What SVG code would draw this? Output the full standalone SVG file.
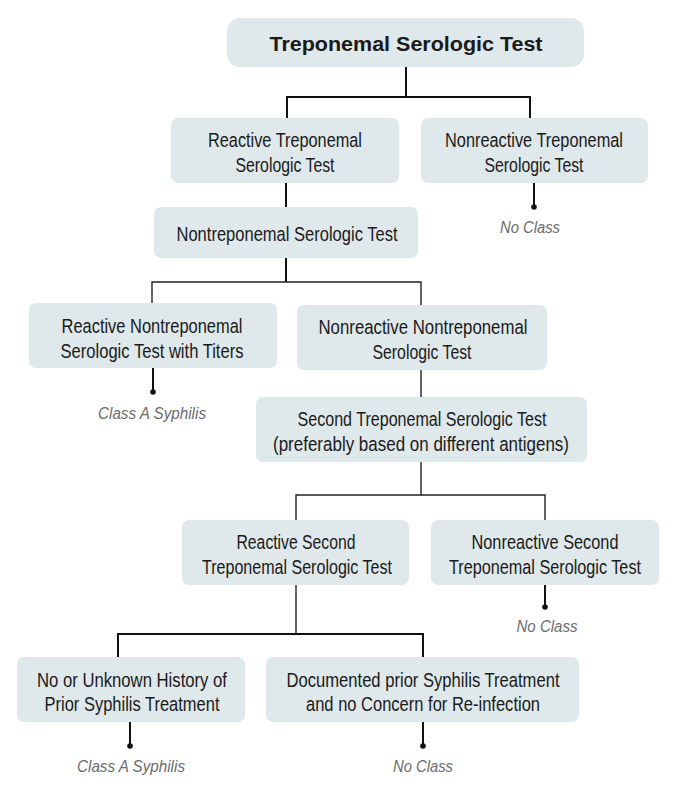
<svg xmlns="http://www.w3.org/2000/svg" width="677" height="787" viewBox="0 0 677 787">
<style>
.box{fill:#dfe8ea}
.t{font-family:"Liberation Sans","Noto Sans",sans-serif;font-size:20.5px;fill:#1a1a1a;text-anchor:middle}
.title{font-family:"Liberation Sans","Noto Sans",sans-serif;font-weight:bold;font-size:20px;fill:#1a1a1a;text-anchor:middle}
.lab{font-family:"Liberation Sans","Noto Sans",sans-serif;font-style:italic;font-size:16px;fill:#6b6b6b;text-anchor:middle}
.c{fill:none;stroke:#111;stroke-width:2}
.c2{fill:none;stroke:#222;stroke-width:1.4}
.dot{fill:#111}
</style>
<rect width="677" height="787" fill="#fff"/>
<g id="connectors">
<path class="c" d="M406 67V97M287 118V97H530V118"/>
<path class="c" d="M286 183V207"/>
<path class="c" d="M534 183V207"/><circle class="dot" cx="534" cy="207" r="2.8"/>
<path class="c" d="M286 258V282"/><path class="c2" d="M152 303V282H421V305"/>
<path class="c" d="M153 368V392"/><circle class="dot" cx="153" cy="392" r="2.8"/>
<path class="c2" d="M421 370V397"/>
<path class="c2" d="M421 462V495"/><path class="c2" d="M296 520V495H545V520"/>
<path class="c" d="M545 585V607"/><circle class="dot" cx="545" cy="607" r="2.8"/>
<path class="c2" d="M296 585V634"/><path class="c" d="M118 657V634H423V657"/>
<path class="c" d="M130 722V746"/><circle class="dot" cx="130" cy="746" r="2.8"/>
<path class="c" d="M423 722V746"/><circle class="dot" cx="423" cy="746" r="2.8"/>
</g>
<g id="n-top"><rect class="box" x="227" y="18" width="357" height="49" rx="13"/><text class="title" x="406" y="51" textLength="273" lengthAdjust="spacingAndGlyphs">Treponemal Serologic Test</text></g>
<g id="n-reactive-trep"><rect class="box" x="171" y="118" width="228" height="65" rx="7"/><text class="t" x="285" y="147" textLength="154" lengthAdjust="spacingAndGlyphs">Reactive Treponemal</text><text class="t" x="285" y="172" textLength="99" lengthAdjust="spacingAndGlyphs">Serologic Test</text></g>
<g id="n-nonreactive-trep"><rect class="box" x="421" y="118" width="227" height="65" rx="7"/><text class="t" x="534" y="147" textLength="178" lengthAdjust="spacingAndGlyphs">Nonreactive Treponemal</text><text class="t" x="534" y="172" textLength="99" lengthAdjust="spacingAndGlyphs">Serologic Test</text></g>
<g id="l-noclass-1"><text class="lab" x="530" y="233" textLength="60" lengthAdjust="spacingAndGlyphs">No Class</text></g>
<g id="n-nontrep"><rect class="box" x="154" y="207" width="264" height="51" rx="7"/><text class="t" x="287" y="241" textLength="221" lengthAdjust="spacingAndGlyphs">Nontreponemal Serologic Test</text></g>
<g id="n-reactive-nontrep"><rect class="box" x="29" y="303" width="248" height="65" rx="7"/><text class="t" x="152" y="333" textLength="181" lengthAdjust="spacingAndGlyphs">Reactive Nontreponemal</text><text class="t" x="152" y="358" textLength="183" lengthAdjust="spacingAndGlyphs">Serologic Test with Titers</text></g>
<g id="l-classA-1"><text class="lab" x="152" y="419" textLength="108" lengthAdjust="spacingAndGlyphs">Class A Syphilis</text></g>
<g id="n-nonreactive-nontrep"><rect class="box" x="297" y="305" width="250" height="65" rx="7"/><text class="t" x="423" y="334" textLength="209" lengthAdjust="spacingAndGlyphs">Nonreactive Nontreponemal</text><text class="t" x="422" y="359" textLength="99" lengthAdjust="spacingAndGlyphs">Serologic Test</text></g>
<g id="n-second-trep"><rect class="box" x="256" y="397" width="331" height="65" rx="7"/><text class="t" x="422" y="426" textLength="249" lengthAdjust="spacingAndGlyphs">Second Treponemal Serologic Test</text><text class="t" x="421" y="451" textLength="296" lengthAdjust="spacingAndGlyphs">(preferably based on different antigens)</text></g>
<g id="n-reactive-second"><rect class="box" x="182" y="520" width="227" height="65" rx="7"/><text class="t" x="296" y="549" textLength="119" lengthAdjust="spacingAndGlyphs">Reactive Second</text><text class="t" x="297" y="574" textLength="190" lengthAdjust="spacingAndGlyphs">Treponemal Serologic Test</text></g>
<g id="n-nonreactive-second"><rect class="box" x="431" y="520" width="228" height="65" rx="7"/><text class="t" x="545" y="549" textLength="147" lengthAdjust="spacingAndGlyphs">Nonreactive Second</text><text class="t" x="545" y="574" textLength="192" lengthAdjust="spacingAndGlyphs">Treponemal Serologic Test</text></g>
<g id="l-noclass-2"><text class="lab" x="547" y="632" textLength="61" lengthAdjust="spacingAndGlyphs">No Class</text></g>
<g id="n-no-history"><rect class="box" x="17" y="657" width="228" height="65" rx="7"/><text class="t" x="132" y="687" textLength="190" lengthAdjust="spacingAndGlyphs">No or Unknown History of</text><text class="t" x="132" y="711" textLength="175" lengthAdjust="spacingAndGlyphs">Prior Syphilis Treatment</text></g>
<g id="n-documented"><rect class="box" x="266" y="657" width="313" height="65" rx="7"/><text class="t" x="423" y="687" textLength="273" lengthAdjust="spacingAndGlyphs">Documented prior Syphilis Treatment</text><text class="t" x="423" y="711" textLength="234" lengthAdjust="spacingAndGlyphs">and no Concern for Re-infection</text></g>
<g id="l-classA-2"><text class="lab" x="131" y="772" textLength="108" lengthAdjust="spacingAndGlyphs">Class A Syphilis</text></g>
<g id="l-noclass-3"><text class="lab" x="423" y="772" textLength="60" lengthAdjust="spacingAndGlyphs">No Class</text></g>
</svg>
